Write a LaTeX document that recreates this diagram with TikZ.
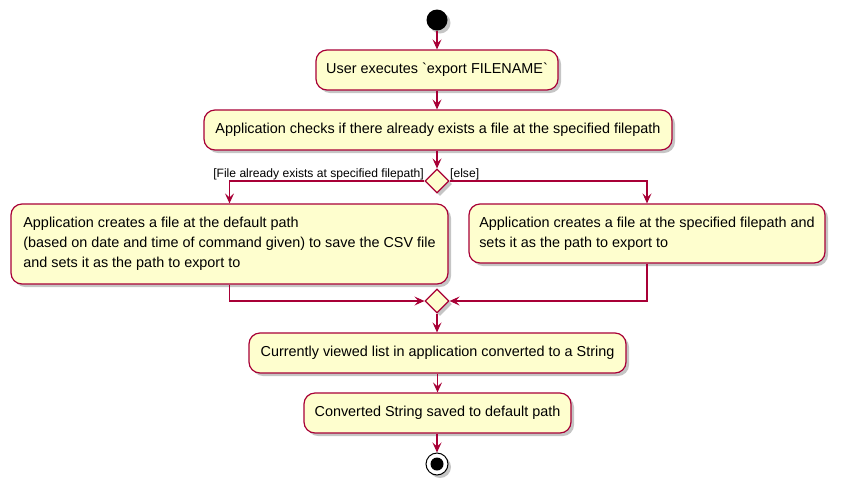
\documentclass[tikz,border=0pt]{standalone}
\usepackage{fontspec}
\setmainfont{Liberation Sans}
\newfontfamily\rawfont{Liberation Sans}
\usetikzlibrary{arrows.meta,shapes.geometric,shadows}
\definecolor{pfill}{HTML}{FEFECE}
\definecolor{pline}{HTML}{A80036}
\tikzset{
  shd/.style={drop shadow={shadow xshift=3pt,shadow yshift=-3pt,fill=black!45,opacity=0.5}},
  act/.style={draw=pline,fill=pfill,rounded corners=11pt,line width=1.2pt,shd,
    align=left,inner sep=0pt,font=\fontsize{14.4}{20}\selectfont},
  dia/.style={diamond,draw=pline,fill=pfill,line width=1.2pt,shd,minimum width=24pt,minimum height=24pt,inner sep=0pt},
  flow/.style={draw=pline,line width=1.1pt,-{Stealth[length=10pt,width=9pt,inset=4pt]}},
  lbl/.style={font=\fontsize{12.1}{14}\selectfont,inner sep=0pt}
}
\begin{document}
\begin{tikzpicture}[x=1pt,y=-1pt]
\useasboundingbox (0,0) rectangle (841,491);
\node[circle,fill=black,minimum size=21pt,inner sep=0pt,shd] (start) at (437,20) {};
\node[act,minimum width=242pt,minimum height=40pt] (b1) at (437,70) {User executes {\rawfont`}export FILENAME{\rawfont`}};
\node[act,minimum width=468pt,minimum height=40pt] (b2) at (438,130) {Application checks if there already exists a file at the specified filepath};
\node[dia] (d1) at (437,181) {};
\node[act,minimum width=437pt,minimum height=80pt] (b3) at (229.5,244) {Application creates a file at the default path\\(based on date and time of command given) to save the CSV file\\and sets it as the path to export to};
\node[act,minimum width=356pt,minimum height=59pt] (b4) at (647,233.5) {Application creates a file at the specified filepath and\\sets it as the path to export to};
\node[dia] (d2) at (437,301) {};
\node[act,minimum width=377pt,minimum height=40pt] (b5) at (437.5,353) {Currently viewed list in application converted to a String};
\node[act,minimum width=267pt,minimum height=40pt] (b6) at (437.5,413) {Converted String saved to default path};
\node[circle,draw=black,line width=1pt,fill=white,minimum size=22pt,inner sep=0pt,shd] (endo) at (437,464) {};
\node[circle,fill=black,minimum size=13pt,inner sep=0pt] (endi) at (endo) {};
\node[lbl,anchor=east] (l1) at (424,174) {[File already exists at specified filepath]};
\node[lbl,anchor=west] (l2) at (450,174) {[else]};
\draw[flow] (start) -- (b1);
\draw[flow] (b1) -- (b1.south |- b2.north);
\draw[flow] (b2.south -| d1.north) -- (d1.north);
\draw[flow] (d1.west) -| (b3.north);
\draw[flow] (d1.east) -| (b4.north);
\draw[flow] (b3.south) |- (d2.west);
\draw[flow] (b4.south) |- (d2.east);
\draw[flow] (d2.south) -- (d2.south |- b5.north);
\draw[flow] (b5.south -| b6.north) -- (b6.north);
\draw[flow] (b6.south -| endo.north) -- (endo.north);
\end{tikzpicture}
\end{document}
